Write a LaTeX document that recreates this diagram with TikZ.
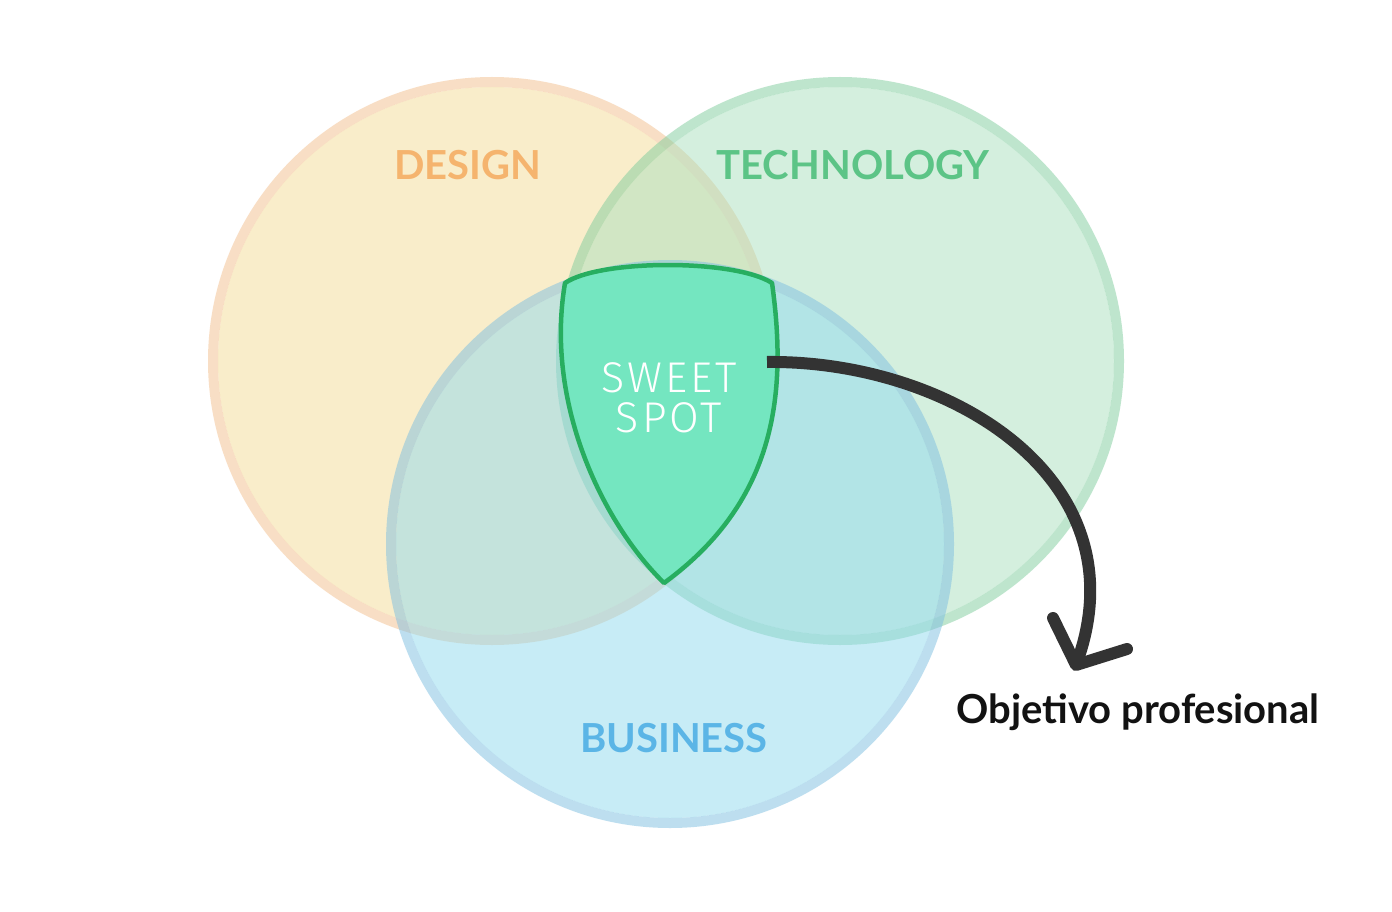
\documentclass[tikz,border=0pt]{standalone}
\usepackage{fontspec}
\setmainfont{Lato}
\newfontfamily\handfont{Fira Sans Light}[LetterSpace=7]
\definecolor{designfill}{RGB}{245,221,151}
\definecolor{designline}{RGB}{243,191,141}
\definecolor{techfill}{RGB}{171,225,191}
\definecolor{techline}{RGB}{127,205,157}
\definecolor{busfill}{RGB}{145,218,238}
\definecolor{busline}{RGB}{125,191,225}
\definecolor{designtext}{RGB}{245,180,110}
\definecolor{techtext}{RGB}{92,196,134}
\definecolor{bustext}{RGB}{91,181,230}
\definecolor{spotfill}{RGB}{116,230,192}
\definecolor{spotline}{RGB}{39,174,96}
\definecolor{arrowgrey}{RGB}{51,51,51}
\tikzset{
  setfill/.style={fill=#1, fill opacity=0.5},
  setring/.style={draw=#1, draw opacity=0.5, line width=10},
  setlabel/.style={text=#1, font=\bfseries\fontsize{40}{48}\selectfont, anchor=base, inner sep=0},
  spotlabel/.style={text=white, font=\handfont\fontsize{43}{48}\selectfont, anchor=base, inner sep=0},
  goalarrow/.style={draw=arrowgrey, line width=12, line cap=butt},
  goalhead/.style={draw=arrowgrey, line width=12, line cap=round, line join=round},
}
\begin{document}
\begin{tikzpicture}[x=1pt,y=-1pt]
\useasboundingbox[fill=white] (0,0) rectangle (1392,912);

% circle centres
\coordinate (cD) at (492,361);
\coordinate (cT) at (840,361);
\coordinate (cB) at (670,544);

% three translucent sets: design, technology, business
\fill[setfill=designfill] (cD) circle[radius=274];
\draw[setring=designline] (cD) circle[radius=279];
\fill[setfill=techfill] (cT) circle[radius=274];
\draw[setring=techline] (cT) circle[radius=279];
\fill[setfill=busfill] (cB) circle[radius=274];
\draw[setring=busline] (cB) circle[radius=279];

% set labels
\node[setlabel=designtext] (design) at (468,180) {DESIGN};
\node[setlabel=techtext] (tech) at (853,180) {TECHNOLOGY};
\node[setlabel=bustext] (business) at (674,752) {BUSINESS};

% sweet spot shield
\coordinate (stl) at (565,283);
\coordinate (str) at (772,283);
\coordinate (sbot) at (664,583);
\draw[fill=spotfill, draw=spotline, line width=4.5, line join=round]
  (stl) .. controls (600,259) and (735,259) .. (str)
        .. controls (787,390) and (778,500) .. (sbot)
        .. controls (600,520) and (545,400) .. (stl) -- cycle;
\node[spotlabel] (sweet) at (669,392) {SWEET};
\node[spotlabel] (spot) at (669,432) {SPOT};

% arrow to the career goal
\coordinate (astart) at (767,362);
\coordinate (atip) at (1076,665);
\coordinate (aleft) at (1053,618);
\coordinate (aright) at (1127,649);
\draw[goalarrow] (astart) .. controls (950,360) and (1145,480) .. (atip);
\draw[goalhead] (aleft) -- (atip) -- (aright);
\node[text=black!93, font=\bfseries\fontsize{40}{46}\selectfont, anchor=base, inner sep=0]
  (goal) at (1138,723) {Objetivo profesional};
\end{tikzpicture}
\end{document}
